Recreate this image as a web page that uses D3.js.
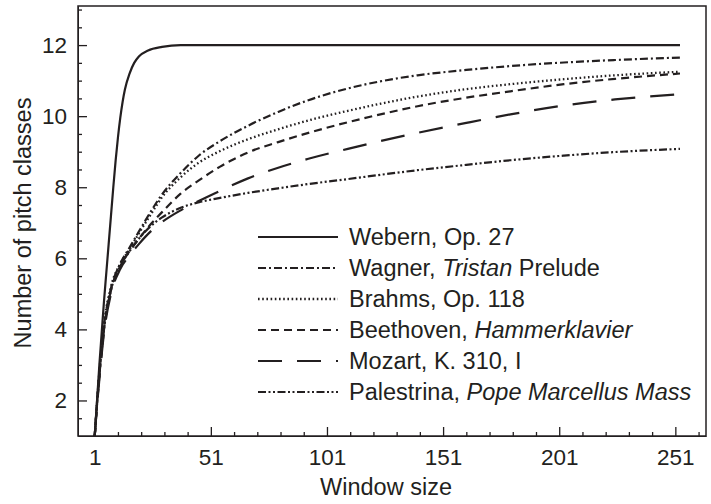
<!DOCTYPE html>
<html>
<head>
<meta charset="utf-8">
<script src="https://cdn.jsdelivr.net/npm/d3@7"></script>
<style>
  body { margin: 0; background: #fff; }
  text { font-family: "Liberation Sans", Arial, Helvetica, sans-serif; fill: #231f20; }
</style>
</head>
<body>
<div id="chart"></div>
<script>
// Window sizes shared by the five smoother curves
var windowSizes = [1, 2, 3, 5, 8, 12, 16, 20, 25, 30, 38, 46, 55, 67, 80, 93, 110, 124, 140, 161, 180, 203, 225, 253];

// Webern rises much faster, so it gets its own sample points
var webernX = [1, 2, 3, 4, 5, 6, 7, 8, 9, 10, 11, 12, 13, 14, 16, 18, 20, 24, 30, 38, 253];
var webern  = [1, 2, 3, 3.9, 4.8, 5.6, 6.4, 7.2, 8.0, 8.75, 9.4, 9.95, 10.4, 10.75, 11.2, 11.5, 11.68, 11.85, 11.95, 12, 12];

var wagner     = [1, 1.95, 2.75, 4.1, 5.15, 5.85, 6.3, 6.75, 7.3, 7.8, 8.4, 8.9, 9.3, 9.73, 10.12, 10.45, 10.78, 10.98, 11.15, 11.3, 11.41, 11.51, 11.58, 11.65];
var brahms     = [1, 1.95, 2.8, 4.15, 5.2, 5.85, 6.25, 6.7, 7.22, 7.72, 8.28, 8.7, 9.02, 9.35, 9.63, 9.88, 10.15, 10.35, 10.55, 10.76, 10.9, 11.04, 11.15, 11.25];
var beethoven  = [1, 1.9, 2.7, 4.0, 5.1, 5.78, 6.2, 6.55, 6.95, 7.3, 7.82, 8.2, 8.58, 8.98, 9.27, 9.53, 9.83, 10.05, 10.28, 10.52, 10.7, 10.9, 11.05, 11.2];
var mozart     = [1, 1.85, 2.6, 3.9, 5.0, 5.7, 6.08, 6.4, 6.75, 7.02, 7.35, 7.62, 7.9, 8.25, 8.55, 8.8, 9.08, 9.3, 9.53, 9.81, 10.05, 10.3, 10.47, 10.62];
var palestrina = [1, 1.9, 2.7, 4.0, 5.1, 5.78, 6.2, 6.55, 6.9, 7.15, 7.42, 7.58, 7.7, 7.84, 7.97, 8.09, 8.23, 8.35, 8.48, 8.63, 8.76, 8.89, 8.99, 9.08];

// Tick labels
var xTickValues = [1, 51, 101, 151, 201, 251];
var yTickValues = [2, 4, 6, 8, 10, 12];

// Legend labels: [plain part, italic part, trailing plain part]
var legendLabels = [
    ["Webern, Op. 27", "", ""],
    ["Wagner, ", "Tristan", " Prelude"],
    ["Brahms, Op. 118", "", ""],
    ["Beethoven, ", "Hammerklavier", ""],
    ["Mozart, K. 310, I", "", ""],
    ["Palestrina, ", "Pope Marcellus Mass", ""]
];
var dashStyles = ["none", "8,3,2,3", "1.6,2.6", "8,5", "24,15", "8,2.5,2,2.5,2,2.5"];

var w = 711;
var h = 504;
var plotLeft = 78, plotRight = 706, plotTop = 6, plotBottom = 436;

var svg = d3.select("#chart")
    .append("svg")
    .attr("width", w)
    .attr("height", h);

var x = d3.scaleLinear().domain([-6.2, 264.2]).range([plotLeft, plotRight]);
var y = d3.scaleLinear().domain([1, 13.1]).range([plotBottom, plotTop]);

// build series from the arrays
var series = [
    webernX.map(function(d, i) { return [d, webern[i]]; }),
    windowSizes.map(function(d, i) { return [d, wagner[i]]; }),
    windowSizes.map(function(d, i) { return [d, brahms[i]]; }),
    windowSizes.map(function(d, i) { return [d, beethoven[i]]; }),
    windowSizes.map(function(d, i) { return [d, mozart[i]]; }),
    windowSizes.map(function(d, i) { return [d, palestrina[i]]; })
];

var line = d3.line()
    .x(function(d) { return x(d[0]); })
    .y(function(d) { return y(d[1]); })
    .curve(d3.curveMonotoneX);

// minor ticks (inside the frame)
var xMinor = d3.range(11, 262, 10).filter(function(v) { return xTickValues.indexOf(v) < 0; });
var yMinor = d3.range(1.5, 13.1, 0.5).filter(function(v) { return yTickValues.indexOf(v) < 0; });

svg.append("g")
    .attr("transform", "translate(0," + plotBottom + ")")
    .call(d3.axisBottom(x).tickValues(xTickValues).tickSizeInner(-9).tickSizeOuter(0).tickPadding(13));
svg.append("g")
    .attr("transform", "translate(0," + plotBottom + ")")
    .call(d3.axisBottom(x).tickValues(xMinor).tickSizeInner(-4).tickSizeOuter(0).tickFormat(""))
    .select(".domain").remove();

svg.append("g")
    .attr("transform", "translate(" + plotLeft + ",0)")
    .call(d3.axisLeft(y).tickValues(yTickValues).tickSizeInner(-9).tickSizeOuter(0).tickPadding(11));
svg.append("g")
    .attr("transform", "translate(" + plotLeft + ",0)")
    .call(d3.axisLeft(y).tickValues(yMinor).tickSizeInner(-4).tickSizeOuter(0).tickFormat(""))
    .select(".domain").remove();

svg.selectAll(".tick line").attr("stroke", "#231f20").attr("stroke-width", 1.3);
svg.selectAll(".domain").attr("stroke", "#231f20");
svg.selectAll(".tick text")
    .style("font-family", "'Liberation Sans', Arial, sans-serif")
    .style("font-size", "22.5px")
    .attr("fill", "#231f20");

// frame
svg.append("rect")
    .attr("x", plotLeft)
    .attr("y", plotTop)
    .attr("width", plotRight - plotLeft)
    .attr("height", plotBottom - plotTop)
    .attr("fill", "none")
    .attr("stroke", "#231f20")
    .attr("stroke-width", 1.5);

// curves
svg.selectAll("path.curve")
    .data(series)
    .enter()
    .append("path")
    .attr("class", "curve")
    .attr("d", line)
    .attr("fill", "none")
    .attr("stroke", "#231f20")
    .attr("stroke-width", function(d, i) { return i == 2 ? 2.3 : 2.2; })
    .attr("stroke-dasharray", function(d, i) { return dashStyles[i]; });

// legend
var legend = svg.append("g");
legendLabels.forEach(function(lab, i) {
    var ly = 237 + i * 31;
    legend.append("line")
        .attr("x1", 258).attr("x2", 338)
        .attr("y1", ly).attr("y2", ly)
        .attr("stroke", "#231f20")
        .attr("stroke-width", i == 2 ? 2.3 : 2.2)
        .attr("stroke-dasharray", dashStyles[i]);
    var t = legend.append("text")
        .attr("x", 349)
        .attr("y", ly)
        .attr("dy", "0.36em")
        .style("font-size", "23.5px");
    t.append("tspan").text(lab[0]);
    if (lab[1]) t.append("tspan").style("font-style", "italic").text(lab[1]);
    if (lab[2]) t.append("tspan").text(lab[2]);
});

// axis titles
svg.append("text")
    .attr("x", (plotLeft + plotRight) / 2 - 6)
    .attr("y", 495)
    .attr("text-anchor", "middle")
    .style("font-size", "23.5px")
    .text("Window size");

svg.append("text")
    .attr("transform", "translate(31," + ((plotTop + plotBottom) / 2 + 2) + ") rotate(-90)")
    .attr("text-anchor", "middle")
    .style("font-size", "23.5px")
    .text("Number of pitch classes");
</script>
</body>
</html>
